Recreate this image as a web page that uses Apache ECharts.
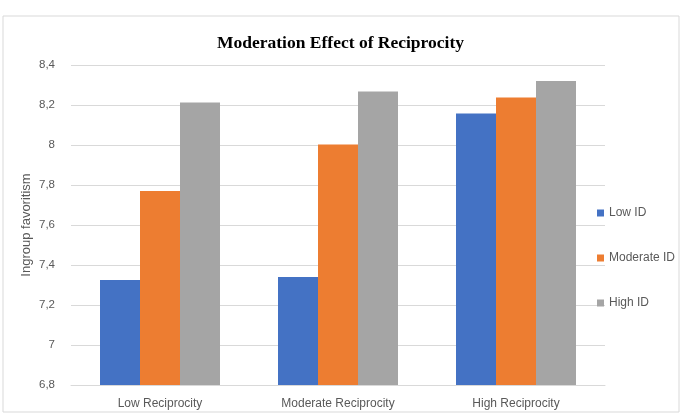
<!DOCTYPE html>
<html>
<head>
<meta charset="utf-8">
<script src="https://cdn.jsdelivr.net/npm/echarts@6/dist/echarts.min.js"></script>
<style>
  html, body { margin: 0; padding: 0; background: #fff; }
  #chart { width: 681px; height: 415px; }
</style>
</head>
<body>
<div id="chart"></div>
<script>
// 数据
const categories = ["Low Reciprocity", "Moderate Reciprocity", "High Reciprocity"];
const lowID = [7.325, 7.34, 8.157];
const moderateID = [7.77, 8.003, 8.237];
const highID = [8.213, 8.267, 8.32];
const seriesNames = ["Low ID", "Moderate ID", "High ID"];
const colors = ["#4472C4", "#ED7D31", "#A5A5A5"];

const labelColor = "#595959";
const fontFamily = "'Liberation Sans', Arial, sans-serif";

let myChart = echarts.init(document.getElementById("chart"));

let option = {
  animation: false,
  color: colors,
  // 标题
  title: {
    text: "Moderation Effect of Reciprocity",
    left: "center",
    top: 29,
    textStyle: {
      fontFamily: "'Liberation Serif', 'Times New Roman', serif",
      fontWeight: "bold",
      fontSize: 17.5,
      color: "#000",
    },
  },
  // 图例
  legend: {
    orient: "vertical",
    left: 592,
    top: 202,
    itemWidth: 7,
    itemHeight: 7,
    itemGap: 33,
    icon: "rect",
    textStyle: { color: labelColor, fontSize: 12, fontFamily: fontFamily },
    data: seriesNames,
  },
  grid: { left: 71, right: 76, top: 65, bottom: 30 },
  xAxis: {
    type: "category",
    data: categories,
    axisTick: { show: false },
    axisLine: { lineStyle: { color: "#d9d9d9" } },
    axisLabel: { color: labelColor, fontSize: 12, margin: 13, fontFamily: fontFamily },
  },
  yAxis: {
    type: "value",
    min: 6.8,
    max: 8.4,
    interval: 0.2,
    name: "Ingroup favoritism",
    nameLocation: "middle",
    nameGap: 38,
    nameMoveOverlap: false,
    nameTextStyle: { color: labelColor, fontSize: 13, fontFamily: fontFamily },
    axisLabel: {
      color: labelColor,
      fontSize: 11.5,
      margin: 16,
      fontFamily: fontFamily,
      formatter: (v) => String(+v.toFixed(1)).replace(".", ","),
    },
    splitLine: { lineStyle: { color: "#d9d9d9" } },
  },
  series: [
    { name: seriesNames[0], type: "bar", data: lowID, barWidth: 40, barGap: "0%" },
    { name: seriesNames[1], type: "bar", data: moderateID, barWidth: 40, barGap: "0%" },
    { name: seriesNames[2], type: "bar", data: highID, barWidth: 40, barGap: "0%" },
  ],
  // 外边框
  graphic: [
    {
      type: "rect",
      shape: { x: 3, y: 16, width: 676, height: 396 },
      style: { fill: "none", stroke: "#d9d9d9", lineWidth: 1 },
      silent: true,
    },
  ],
};

option && myChart.setOption(option);
</script>
</body>
</html>
